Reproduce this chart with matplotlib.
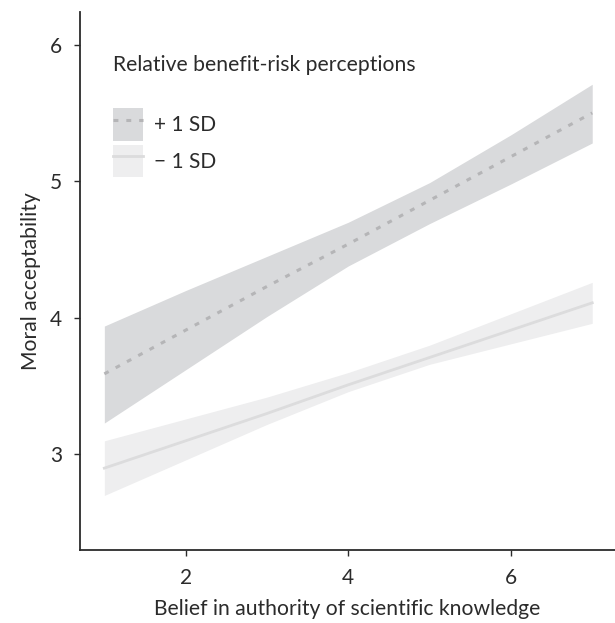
import matplotlib
matplotlib.use("Agg")
import matplotlib.pyplot as plt
from matplotlib.patches import Patch
from matplotlib.lines import Line2D

plt.rcParams["font.family"] = ["Lato", "DejaVu Sans"]

# belief in authority of scientific knowledge
x_vals = [1, 2, 3, 4, 5, 6, 7]

# +1 SD relative benefit-risk perceptions
hi_fit = [3.59, 3.91, 4.23, 4.54, 4.86, 5.18, 5.50]
hi_upper = [3.94, 4.20, 4.45, 4.70, 4.99, 5.34, 5.71]
hi_lower = [3.23, 3.62, 4.01, 4.38, 4.69, 4.98, 5.28]

# -1 SD relative benefit-risk perceptions
lo_fit = [2.90, 3.10, 3.30, 3.51, 3.71, 3.91, 4.11]
lo_upper = [3.10, 3.26, 3.42, 3.60, 3.80, 4.03, 4.26]
lo_lower = [2.70, 2.96, 3.22, 3.46, 3.66, 3.81, 3.96]

legend_labels = ["+ 1 SD", "\u2212 1 SD"]

HI_BAND, HI_LINE = "#d9dadc", "#b5b5b7"
LO_BAND, LO_LINE = "#eeeeef", "#dcdcdd"
INK = "#2b2b2b"
DASH = (0, (1.6, 2.6))

fig = plt.figure(figsize=(6.15, 6.23), dpi=100)
ax = fig.add_axes([0.130, 0.117, 0.870, 0.864])

ax.fill_between(x_vals, hi_lower, hi_upper, color=HI_BAND, lw=0)
ax.fill_between(x_vals, lo_lower, lo_upper, color=LO_BAND, lw=0)
ax.plot(x_vals, hi_fit, color=HI_LINE, lw=2.2, ls=DASH)
ax.plot(x_vals, lo_fit, color=LO_LINE, lw=2.0)

ax.set_xlim(0.7, 7.28)
ax.set_ylim(2.30, 6.24)
ax.set_xticks([2, 4, 6])
ax.set_yticks([3, 4, 5, 6])

for side in ["top", "right"]:
    ax.spines[side].set_visible(False)
for side in ["left", "bottom"]:
    ax.spines[side].set_color(INK)
    ax.spines[side].set_linewidth(1.3)
ax.tick_params(colors=INK, labelcolor=INK, labelsize=15, length=4, width=1.0, pad=9)

ax.set_xlabel("Belief in authority of scientific knowledge", fontsize=15.2, color=INK, labelpad=8)
ax.set_ylabel("Moral acceptability", fontsize=15.2, color=INK, labelpad=6)

handles = [
    (Patch(facecolor=HI_BAND, edgecolor="none"),
     Line2D([], [], color=HI_LINE, lw=2.2, ls=DASH)),
    (Patch(facecolor=LO_BAND, edgecolor="none"),
     Line2D([], [], color=LO_LINE, lw=2.0)),
]
leg = ax.legend(handles, legend_labels, title="Relative benefit-risk perceptions",
                loc="upper left", bbox_to_anchor=(0.046, 0.935), frameon=False,
                fontsize=15, title_fontsize=15.2, handlelength=1.45, handleheight=2.0,
                labelspacing=0.2, handletextpad=0.5, borderaxespad=0)
leg._legend_box.align = "left"
leg._legend_box.sep = 24
for t in leg.get_texts():
    t.set_color(INK)
leg.get_title().set_color(INK)

fig.savefig("out.png", dpi=100)
